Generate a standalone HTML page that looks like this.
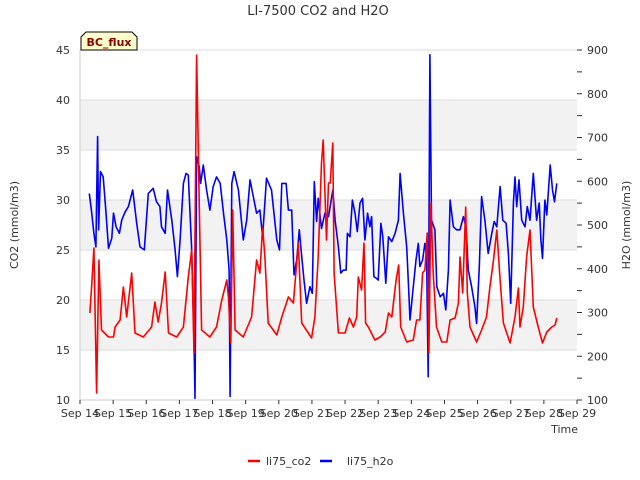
<!DOCTYPE html>
<html><head><meta charset="utf-8"><style>
body{margin:0;background:#fff;}
svg{display:block;font-family:"DejaVu Sans","Liberation Sans",sans-serif;}
</style></head><body>
<svg id="chart" width="640" height="480">
<text x="318" y="15" text-anchor="middle" font-size="13" fill="#333">LI-7500 CO2 and H2O</text>
<g id="bands"></g>
<g id="grid"></g>
<g id="axes"></g>
<g id="series"></g>
<text transform="translate(18,225) rotate(-90)" text-anchor="middle" font-size="11" fill="#333">CO2 (mmol/m3)</text>
<text transform="translate(630,225) rotate(-90)" text-anchor="middle" font-size="11" fill="#333">H2O (mmol/m3)</text>
<text x="578" y="433" text-anchor="end" font-size="11" fill="#333">Time</text>
<g>
<path d="M81,50 L81,37 L86,32 L132,32 L137,37 L137,50 Z" fill="#ffffcc" stroke="#000" stroke-width="1"/>
<text x="109" y="46" text-anchor="middle" font-size="11" font-weight="bold" fill="#8b0000">BC_flux</text>
</g>
<g>
<g>
<line x1="248" y1="461" x2="260" y2="461" stroke="#ff0000" stroke-width="2.5"/>
<text x="266" y="465" font-size="11" fill="#333">li75_co2</text></g>
<g>
<line x1="320" y1="461" x2="332" y2="461" stroke="#0000ff" stroke-width="2.5"/>
<text x="347" y="465" font-size="11" fill="#333">li75_h2o</text></g>
</g>
</svg>
<script>
const xTickLabels=["Sep 14","Sep 15","Sep 16","Sep 17","Sep 18","Sep 19","Sep 20","Sep 21","Sep 22","Sep 23","Sep 24","Sep 25","Sep 26","Sep 27","Sep 28","Sep 29"];
const yLeftTicks=[10,15,20,25,30,35,40,45];
const yRightTicks=[100,200,300,400,500,600,700,800,900];
const co2Days=[.30,.35,.42,.50,.57,.65,.86,1.01,1.06,1.21,1.31,1.41,1.56,1.66,1.91,2.16,2.26,2.36,2.46,2.57,2.67,2.92,3.12,3.27,3.37,3.44,3.52,3.60,3.67,3.92,4.12,4.28,4.43,4.48,4.55,4.61,4.68,4.93,5.18,5.33,5.43,5.51,5.58,5.68,5.94,6.09,6.29,6.44,6.59,6.69,6.99,7.09,7.19,7.29,7.34,7.44,7.50,
7.55,7.63,7.67,7.80,8.00,8.13,8.25,8.35,8.40,8.50,8.57,8.62,8.70,8.90,9.06,9.21,9.31,9.41,9.54,9.62,9.68,9.86,10.06,10.16,10.26,10.34,10.41,10.48,10.53,10.59,10.66,10.76,10.92,11.07,11.17,11.32,11.42,11.47,11.55,11.64,11.69,11.77,11.97,12.12,12.27,12.37,12.48,12.58,12.68,12.78,12.98,13.13,13.23,13.28,13.38,13.48,13.58,13.68,13.83,13.96,14.09,14.24,14.34,14.39];
const co2Vals=[18.7,21.3,25.2,10.7,24,17,16.3,16.3,17.3,18,21.3,18.3,22.7,16.7,16.3,17.3,19.8,17.8,19.7,22.8,16.7,16.3,17.3,22.3,25,14.7,44.5,29.3,17,16.3,17.3,20,22,20.3,15.7,29,17,16.3,18.3,24,22.7,27.3,24.3,17.7,16.5,18.3,20.3,19.7,25.7,17.7,16.2,18.3,24.3,33.7,36,26,31.7,
31.7,35.7,22.7,16.7,16.7,18.2,17.3,18.3,22.3,21,25.7,17.7,17.3,16,16.3,16.8,18.7,18.3,22,23.5,17.3,15.8,16,18,18,22.7,23,26.7,14.7,29.7,22.7,17.3,15.8,15.8,18,18.2,19.7,24.3,20.7,29.3,20.7,17.3,15.8,17,18.3,21.3,24,27,22,17.7,15.7,18.3,21.2,17.3,19.3,24.3,27,19.3,17.3,15.7,16.8,17.3,17.5,18.2];
const h2oDays=[.28,.35,.42,.48,.53,.56,.62,.70,.78,.86,.96,1.01,1.09,1.19,1.26,1.36,1.46,1.59,1.71,1.81,1.94,2.06,2.21,2.31,2.41,2.46,2.57,2.64,2.77,2.87,2.94,3.02,3.12,3.20,3.27,3.37,3.44,3.47,3.52,3.60,3.64,3.72,3.82,3.92,4.02,4.12,4.23,4.33,4.43,4.50,4.53,4.58,4.65,4.78,4.93,5.03,5.13,5.23,5.33,5.43,5.51,5.63,5.78,5.94,6.02,6.09,6.22,6.29,6.39,6.46,6.54,6.62,6.69,6.76,6.84,6.94,7.01,7.07,7.14,7.19,7.29,7.39,7.50,
7.63,7.70,7.80,7.87,7.95,8.03,8.07,8.15,8.22,8.30,8.37,8.45,8.53,8.60,8.68,8.75,8.80,8.87,8.95,9.00,9.08,9.14,9.23,9.31,9.41,9.51,9.61,9.66,9.76,9.86,9.91,9.96,10.06,10.14,10.21,10.26,10.34,10.41,10.46,10.51,10.56,10.61,10.71,10.77,10.87,10.97,11.04,11.12,11.17,11.27,11.37,11.47,11.57,11.65,11.72,11.82,11.92,11.97,12.05,12.12,12.22,12.32,12.43,12.50,12.58,12.68,12.76,12.86,12.93,13.00,13.08,13.13,13.18,13.25,13.33,13.43,13.50,13.58,13.68,13.78,13.86,13.91,13.96,14.03,14.09,14.19,14.26,14.32,14.39];
const h2oVals=[572,530,481,450,702,489,622,610,534,447,470,527,496,481,511,530,542,580,504,450,443,572,584,553,542,496,481,580,511,443,382,466,595,618,614,443,237,104,656,633,595,637,580,534,588,610,595,527,466,397,108,595,622,580,466,511,603,565,527,534,473,607,580,466,443,595,595,534,534,386,420,489,428,374,321,359,344,599,508,561,492,527,519,
580,511,450,390,397,397,481,473,557,527,485,550,561,466,527,496,519,382,378,374,504,473,367,473,462,481,511,618,527,450,367,283,359,420,458,405,420,458,428,153,889,511,489,359,336,344,306,397,557,496,489,489,519,496,397,359,313,275,405,565,511,435,481,508,496,588,511,504,435,321,550,610,542,603,511,496,542,511,618,511,550,466,424,557,523,637,580,553,595];

const NS="http://www.w3.org/2000/svg";
const L=80,R=577,T=50,B=400;
const xS=d=>L+(R-L)*d/15;
const yL=v=>B-(v-10)/35*(B-T);
const yR=v=>B-(v-100)/800*(B-T);
function mk(tag,attrs,parent){const e=document.createElementNS(NS,tag);for(const k in attrs)e.setAttribute(k,attrs[k]);parent.appendChild(e);return e;}
const bands=document.getElementById('bands'),grid=document.getElementById('grid'),axes=document.getElementById('axes'),series=document.getElementById('series');
[[15,20],[25,30],[35,40]].forEach(b=>{const r=mk('rect',{x:L,y:yL(b[1]),width:R-L,height:yL(b[0])-yL(b[1]),fill:'#f2f2f2'},bands);

});
yLeftTicks.forEach(v=>{const g=mk('line',{x1:L,x2:R,y1:yL(v),y2:yL(v),stroke:'#dcdcdc','stroke-width':1},grid);


const t=mk('text',{x:L-10,y:yL(v)+4,'text-anchor':'end','font-size':11,fill:'#333'},axes);t.textContent=v;

});
mk('line',{x1:L,x2:L,y1:T,y2:B,stroke:'#ccc'},axes);
mk('line',{x1:L,x2:R,y1:B,y2:B,stroke:'#ccc'},axes);
xTickLabels.forEach((s,i)=>{const x=xS(i);mk('line',{x1:x,x2:x,y1:B,y2:B+4,stroke:'#333'},axes);
const t=mk('text',{x:x,y:B+17,'text-anchor':'middle','font-size':11,fill:'#333'},axes);t.textContent=s;

});
for(let v=100;v<=900;v+=50){mk('line',{x1:R,x2:R+5,y1:yR(v),y2:yR(v),stroke:'#333'},axes);}
yRightTicks.forEach(v=>{const t=mk('text',{x:R+10,y:yR(v)+4,'font-size':11,fill:'#333'},axes);t.textContent=v;

});
function line(days,vals,ys,color,name){const n=Math.min(days.length,vals.length);let p=[];for(let i=0;i<n;i++)p.push(xS(days[i]).toFixed(1)+','+ys(vals[i]).toFixed(1));
const pl=mk('polyline',{points:p.join(' '),fill:'none',stroke:color,'stroke-width':1.6,'stroke-linejoin':'round'},series);

}
line(h2oDays,h2oVals,yR,'#0000ff','h2o-line');
line(co2Days,co2Vals,yL,'#ff0000','co2-line');
</script>
</body></html>
